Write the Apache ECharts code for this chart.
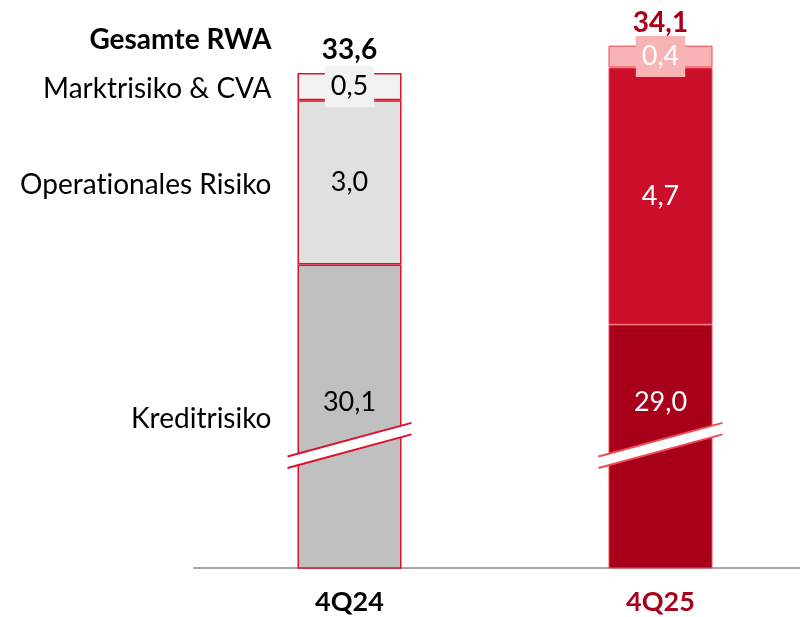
<!doctype html>
<html>
<head>
    <meta charset="utf-8">
    <title>RWA</title>
    <script type="text/javascript" src="https://cdn.jsdelivr.net/npm/echarts@6/dist/echarts.min.js"></script>
    <style>
        html, body { margin: 0; padding: 0; background: #fff; }
        #container { width: 800px; height: 617px; }
    </style>
</head>
<body>
<div id="container"></div>
<script type="text/javascript">
    /* Gesamte RWA, Mrd. */
    var periods = ['4Q24', '4Q25'];
    var credit = [30.1, 29.0];
    var operational = [3.0, 4.7];
    var market = [0.5, 0.4];
    var totals = [33.6, 34.1];
    // \u200c keeps Lato from joining "ti" into a ligature
    var rowNames = ['Gesamte RWA', 'Marktrisiko & CVA', 'Operat\u200cionales Risiko', 'Kreditrisiko'];

    // where the text sits on the (broken) value axis
    var rowLabelAt = [34.2, 33.3, 31.55, 27.27];
    var creditLabelAt = 27.58;
    var breakAt = 26.79;
    var axisMin = 24.55, axisMax = 34.55;

    var font = 'Lato';
    var periodColor = ['#000000', '#a8001a'];
    var creditColor = ['#c0c0c0', '#a8001a'];
    var operationalColor = ['#e0e0e0', '#cb0e29'];
    var marketColor = ['#f2f2f2', '#f8b3b5'];
    var edgeColor = ['#d9132b', '#ee4a57'];
    var valueText = ['#000000', '#ffffff'];

    function fmt(v) { return v.toFixed(1).replace('.', ','); }

    function items(values, fills) {
        return values.map(function (v, i) {
            return {
                value: v,
                itemStyle: { color: fills[i], borderColor: edgeColor[i], borderWidth: i === 0 ? 1.5 : 1 },
                label: { color: valueText[i] }
            };
        });
    }

    var dom = document.getElementById('container');
    var myChart = echarts.init(dom, null, { renderer: 'canvas' });

    var textOnly = { type: 'scatter', symbolSize: 0, silent: true, z: 6, itemStyle: { opacity: 1 } };

    var option = {
        animation: false,
        textStyle: { fontFamily: font },
        grid: { left: 194, right: -16, top: 21, bottom: 49, containLabel: false, outerBoundsMode: 'none' },
        xAxis: {
            type: 'category',
            data: periods,
            axisTick: { show: false },
            axisLine: { lineStyle: { color: '#a6a6a6', width: 2 } },
            axisLabel: {
                margin: 21,
                formatter: function (v, i) { return '{p' + i + '|' + v + '}'; },
                rich: {
                    p0: { fontSize: 27, fontWeight: 'bold', color: periodColor[0], fontFamily: font },
                    p1: { fontSize: 27, fontWeight: 'bold', color: periodColor[1], fontFamily: font }
                }
            }
        },
        yAxis: { type: 'value', min: axisMin, max: axisMax, show: false, splitLine: { show: false } },
        series: [
            {
                name: 'Kreditrisiko', type: 'bar', stack: 'rwa', barWidth: 104, clip: true,
                data: items(credit, creditColor)
            },
            {
                name: 'Operationales Risiko', type: 'bar', stack: 'rwa',
                label: { show: true, position: 'inside', fontSize: 27, fontFamily: font, formatter: function (p) { return fmt(p.value); } },
                data: items(operational, operationalColor)
            },
            {
                name: 'Marktrisiko & CVA', type: 'bar', stack: 'rwa',
                label: {
                    show: true, position: 'inside', fontSize: 27, fontFamily: font, padding: [8, 6, 6, 6],
                    formatter: function (p) { return fmt(p.value); }
                },
                data: items(market, marketColor).map(function (d, i) {
                    d.label.backgroundColor = marketColor[i];
                    return d;
                })
            },
            {
                // axis break marks over the credit bars
                name: 'break', type: 'custom', silent: true, z: 5,
                data: periods.map(function (p, i) { return [i, breakAt]; }),
                renderItem: function (params, api) {
                    var c = api.coord([api.value(0), api.value(1)]);
                    var h = 62, s = 0.272, t = 11.5;
                    var col = edgeColor[params.dataIndex];
                    var y1 = c[1] - t / 2, y2 = c[1] + t / 2;
                    return {
                        type: 'group',
                        children: [
                            { type: 'polygon', shape: { points: [[c[0] - h, y1 + s * h], [c[0] + h, y1 - s * h], [c[0] + h, y2 - s * h], [c[0] - h, y2 + s * h]] }, style: { fill: '#ffffff' } },
                            { type: 'line', shape: { x1: c[0] - h, y1: y1 + s * h, x2: c[0] + h, y2: y1 - s * h }, style: { stroke: col, lineWidth: 2 } },
                            { type: 'line', shape: { x1: c[0] - h, y1: y2 + s * h, x2: c[0] + h, y2: y2 - s * h }, style: { stroke: col, lineWidth: 2 } }
                        ]
                    };
                }
            },
            echarts.util.merge({
                name: 'creditLabels',
                data: credit.map(function (v, i) {
                    return { value: [i, creditLabelAt], label: { color: valueText[i] } };
                }),
                label: {
                    show: true, position: 'top', distance: -14, fontSize: 27, fontFamily: font,
                    formatter: function (p) { return fmt(credit[p.dataIndex]); }
                }
            }, textOnly),
            echarts.util.merge({
                name: 'totals',
                data: totals.map(function (v, i) {
                    return { value: [i, v], label: { color: periodColor[i] } };
                }),
                label: {
                    show: true, position: 'top', distance: 9, fontSize: 28, fontWeight: 'bold', fontFamily: font,
                    formatter: function (p) { return fmt(p.value[1]); }
                }
            }, textOnly),
            echarts.util.merge({
                name: 'rows',
                data: rowLabelAt.map(function (v, i) {
                    return { value: [0, v], name: rowNames[i], label: { fontWeight: i === 0 ? 'bold' : 'normal' } };
                }),
                label: {
                    show: true, position: 'left', distance: 78, fontSize: 28, fontFamily: font, color: '#000000',
                    formatter: function (p) { return p.name; }
                }
            }, textOnly)
        ]
    };

    if (option && typeof option === "object") {
        myChart.setOption(option, true);
    }
</script>
</body>
</html>
